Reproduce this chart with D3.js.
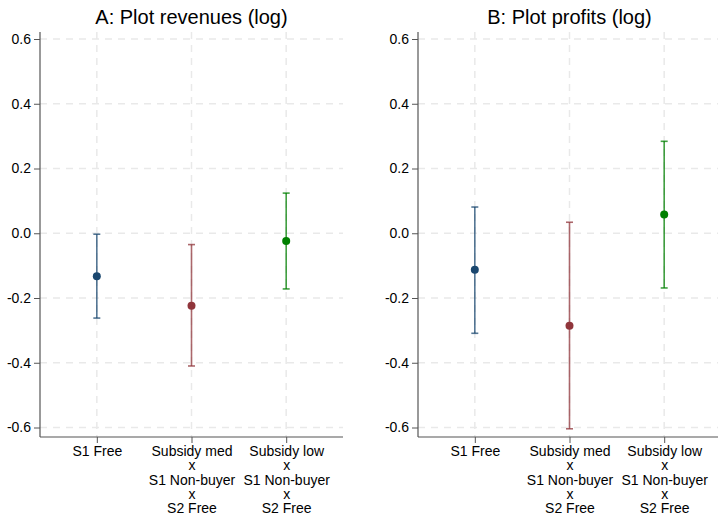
<!DOCTYPE html>
<html>
<head>
<meta charset="utf-8">
<script src="https://cdn.jsdelivr.net/npm/d3@7"></script>
<style>
  html, body { margin: 0; padding: 0; background: #fff; }
  svg { display: block; font-family: "Liberation Sans", Arial, Helvetica, sans-serif; }
</style>
</head>
<body>
<svg id="chart" width="718" height="516"></svg>
<script>
// Treatment arms shown on the x axis (each line is a separate row of the label)
const categories = [
  ["S1 Free"],
  ["Subsidy med", "x", "S1 Non-buyer", "x", "S2 Free"],
  ["Subsidy low", "x", "S1 Non-buyer", "x", "S2 Free"]
];
const yTicks = [0.6, 0.4, 0.2, 0.0, -0.2, -0.4, -0.6];
const colors = ["#1a476f", "#90353b", "#008000"];

// Panel A: plot revenues (log) — point estimate with 95% CI
const revTitle = "A: Plot revenues (log)";
const revEst = [-0.133, -0.224, -0.024];
const revLo  = [-0.262, -0.410, -0.172];
const revHi  = [-0.003, -0.035, 0.124];

// Panel B: plot profits (log)
const profTitle = "B: Plot profits (log)";
const profEst = [-0.113, -0.286, 0.058];
const profLo  = [-0.309, -0.604, -0.169];
const profHi  = [0.081, 0.034, 0.284];

const svg = d3.select("#chart");

function panel(x0, title, est, lo, hi) {
  const left = x0, right = x0 + 303, top = 32, bottom = 437;
  const x = d3.scaleLinear().domain([0.4, 3.6]).range([left, right]);
  const y = d3.scaleLinear().domain([-0.6, 0.6]).range([427.5, 39]);
  y.domain([-0.6, 0.6]);
  const yTop = y.invert(top), yBot = y.invert(bottom);
  const yFull = d3.scaleLinear().domain([yBot, yTop]).range([bottom, top]);

  const g = svg.append("g");

  // grid
  g.append("g").selectAll("line.h").data(yTicks).join("line")
    .attr("x1", left).attr("x2", right)
    .attr("y1", d => yFull(d)).attr("y2", d => yFull(d))
    .attr("stroke", "#e9e9e9").attr("stroke-width", 1.5)
    .attr("stroke-dasharray", "7,6");
  g.append("g").selectAll("line.v").data([1, 2, 3]).join("line")
    .attr("x1", d => x(d)).attr("x2", d => x(d))
    .attr("y1", top).attr("y2", bottom)
    .attr("stroke", "#e9e9e9").attr("stroke-width", 1.5)
    .attr("stroke-dasharray", "7,6");

  // y axis
  const yAxis = d3.axisLeft(yFull).tickValues(yTicks).tickSize(6).tickPadding(3)
    .tickFormat(d3.format(".1f"));
  const ya = g.append("g").attr("transform", `translate(${left},0)`).call(yAxis);
  ya.select(".domain").attr("stroke", "#555").attr("stroke-width", 1.2)
    .attr("d", `M0,${top}V${bottom}`);
  ya.selectAll(".tick line").attr("stroke", "#555");
  ya.selectAll(".tick text").attr("font-size", 14).attr("fill", "#000")
    .style("font-family", "Liberation Sans, Arial, sans-serif")
    .text(d => d3.format(".1f")(d).replace("−", "-"));

  // x axis
  const xAxis = d3.axisBottom(x).tickValues([1, 2, 3]).tickSize(6).tickFormat("");
  const xa = g.append("g").attr("transform", `translate(0,${bottom})`).call(xAxis);
  xa.select(".domain").attr("stroke", "#555").attr("stroke-width", 1.2)
    .attr("d", `M${left},0H${right}`);
  xa.selectAll(".tick line").attr("stroke", "#555");
  xa.selectAll(".tick").each(function(d) {
    const t = d3.select(this).append("text")
      .attr("fill", "#000").attr("font-size", 14).attr("text-anchor", "middle")
      .attr("y", 19);
    categories[d - 1].forEach((s, i) => {
      t.append("tspan").attr("x", 0).attr("dy", i === 0 ? 0 : 14.3).text(s);
    });
  });

  // title
  g.append("text").attr("x", (left + right) / 2).attr("y", 24)
    .attr("text-anchor", "middle").attr("font-size", 20).attr("fill", "#000")
    .text(title);

  // CIs and point estimates
  const idx = [0, 1, 2];
  const ci = g.append("g");
  ci.selectAll("line.ci").data(idx).join("line")
    .attr("x1", i => x(i + 1)).attr("x2", i => x(i + 1))
    .attr("y1", i => yFull(lo[i])).attr("y2", i => yFull(hi[i]))
    .attr("stroke", i => colors[i]).attr("stroke-opacity", 0.75).attr("stroke-width", 1.6);
  [lo, hi].forEach(arr => {
    ci.selectAll(null).data(idx).join("line")
      .attr("x1", i => x(i + 1) - 3.5).attr("x2", i => x(i + 1) + 3.5)
      .attr("y1", i => yFull(arr[i])).attr("y2", i => yFull(arr[i]))
      .attr("stroke", i => colors[i]).attr("stroke-opacity", 0.75).attr("stroke-width", 1.6);
  });
  g.append("g").selectAll("circle").data(idx).join("circle")
    .attr("cx", i => x(i + 1)).attr("cy", i => yFull(est[i])).attr("r", 4)
    .attr("fill", i => colors[i]);
}

panel(40, revTitle, revEst, revLo, revHi);
panel(418, profTitle, profEst, profLo, profHi);
</script>
</body>
</html>
